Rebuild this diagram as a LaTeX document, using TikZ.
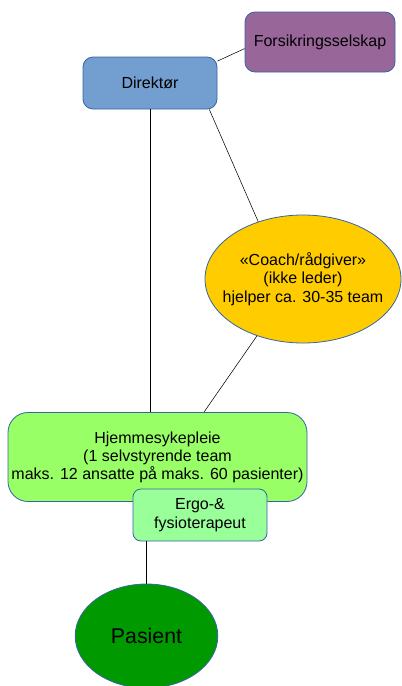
\documentclass[tikz,border=0pt]{standalone}
\usepackage{fontspec}
\setmainfont{Liberation Sans}
\usepackage{tikz}
\usetikzlibrary{shapes.geometric}

\definecolor{edgeblue}{HTML}{3465A4}
\definecolor{purplebox}{HTML}{996699}
\definecolor{blueboks}{HTML}{729FCF}
\definecolor{coachyellow}{HTML}{FFCC00}
\definecolor{lightgreen}{HTML}{99FF66}
\definecolor{palegreen}{HTML}{99FF99}
\definecolor{darkgreen}{HTML}{009900}

\begin{document}
\begin{tikzpicture}[x=0.75pt,y=-0.75pt,
    boks/.style={draw=edgeblue,line width=0.6pt,rounded corners=7.5pt,align=center,
                 font=\fontsize{12}{14}\selectfont,inner sep=0pt},
    rund/.style={draw=edgeblue,line width=0.6pt,ellipse,align=center,inner sep=0pt}]
    \useasboundingbox (0,0) rectangle (401,686);

%draw boxes
    \node[boks,fill=purplebox,minimum width=112.5pt,minimum height=45pt] (forsikring) at (320,42) {Forsikringsselskap};
    \node[boks,fill=blueboks,minimum width=100.5pt,minimum height=39pt] (direktor) at (150,83) {Direktør};
    \node[rund,fill=coachyellow,minimum width=147pt,minimum height=96pt] (coach) at (303,279) {};
    \node[align=center,inner sep=0pt,font=\fontsize{12}{13.8}\selectfont] (coachtekst) at (coach.center)
        {«Coach/rådgiver»\\(ikke leder)\\hjelper ca. 30-35 team};
    \node[boks,fill=lightgreen,rounded corners=15pt,minimum width=224.25pt,minimum height=66.75pt,font=\fontsize{12}{13.6}\selectfont] (hjemme) at (157.5,457)
        {Hjemmesykepleie\\(1 selvstyrende team\\maks. 12 ansatte på maks. 60 pasienter)};
    \node[boks,fill=palegreen,rounded corners=6pt,minimum width=100.5pt,minimum height=39pt] (ergo) at (200,515) {Ergo-\&\\fysioterapeut};
    \node[rund,fill=darkgreen,minimum width=107pt,minimum height=78pt] (pasient) at (146.5,636) {};
    \node[font=\fontsize{16}{19}\selectfont,inner sep=0pt] (pasienttekst) at (pasient.center) {Pasient};

%draw lines
    \draw (direktor.18) -- (forsikring.185);
    \draw (direktor.south) -- (direktor.south |- hjemme.north);
    \draw (direktor.-24) -- (coach.128);
    \draw (coach.231) -- (hjemme.44);
    \draw (pasient.north) -- (pasient.north |- ergo.south);

\end{tikzpicture}
\end{document}
